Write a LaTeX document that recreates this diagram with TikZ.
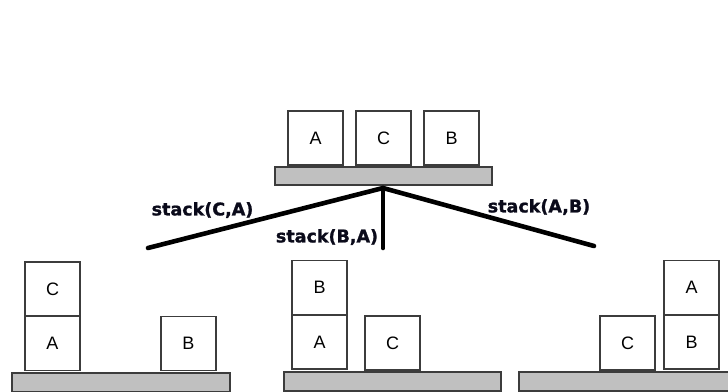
\documentclass[tikz,border=0pt]{standalone}
\usepackage{fontspec}
\setmainfont{Liberation Sans}
\newfontfamily\labelfont[BoldFeatures={FakeBold=1.2}]{DejaVu Sans}
\definecolor{edgegray}{HTML}{3C3C3C}
\definecolor{tablegray}{HTML}{C0C0C0}
\definecolor{ink}{HTML}{0A0A1A}
\tikzset{
  block/.style={draw=edgegray, line width=1.2pt, fill=white, minimum width=55pt,
    minimum height=54pt, inner sep=0pt, font=\fontsize{18}{18}\selectfont},
  tabletop/.style={draw=edgegray, line width=1.2pt, fill=tablegray, minimum width=217pt,
    minimum height=18pt, inner sep=0pt},
  move/.style={line width=4.6pt, black, line cap=round},
  movelabel/.style={inner sep=0pt, text=ink, font=\labelfont\bfseries\fontsize{17.5}{17.5}\selectfont}
}
\begin{document}
\begin{tikzpicture}[x=1pt, y=-1pt]
  \useasboundingbox[fill=white] (0,0) rectangle (728,391);

  % initial state
  \node[tabletop] (t0) at (383.5,176) {};
  \node[block] (a0) at (315.5,138) {A};
  \node[block] (c0) at (383.5,138) {C};
  \node[block] (b0) at (451.5,138) {B};

  % branches
  \coordinate (apex) at (383,188);
  \coordinate (endl) at (148,248);
  \coordinate (endm) at (383,248);
  \coordinate (endr) at (594,246);
  \draw[move] (endl) -- (apex) -- (endr);
  \draw[move] (apex) -- (endm);

  \node[movelabel] (lca) at (202.5,210) {stack(C,A)};
  \node[movelabel] (lba) at (327,237) {stack(B,A)};
  \node[movelabel] (lab) at (539,207) {stack(A,B)};

  % result of stack(C,A)
  \node[tabletop, minimum width=218pt, minimum height=19pt] (t1) at (121,382.5) {};
  \node[block] (c1) at (52.5,289) {C};
  \node[block] (a1) at (52.5,343.5) {A};
  \node[block] (b1) at (188.5,343.5) {B};

  % result of stack(B,A)
  \node[tabletop, minimum height=19pt] (t2) at (392.5,381.5) {};
  \node[block] (b2) at (319.5,287.5) {B};
  \node[block] (a2) at (319.5,342) {A};
  \node[block] (c2) at (392.5,343) {C};

  % result of stack(A,B)
  \node[tabletop, minimum width=218pt, minimum height=19pt] (t3) at (628,381.5) {};
  \node[block] (c3) at (627.5,343) {C};
  \node[block] (a3) at (691.5,287.5) {A};
  \node[block] (b3) at (691.5,342) {B};
\end{tikzpicture}
\end{document}
